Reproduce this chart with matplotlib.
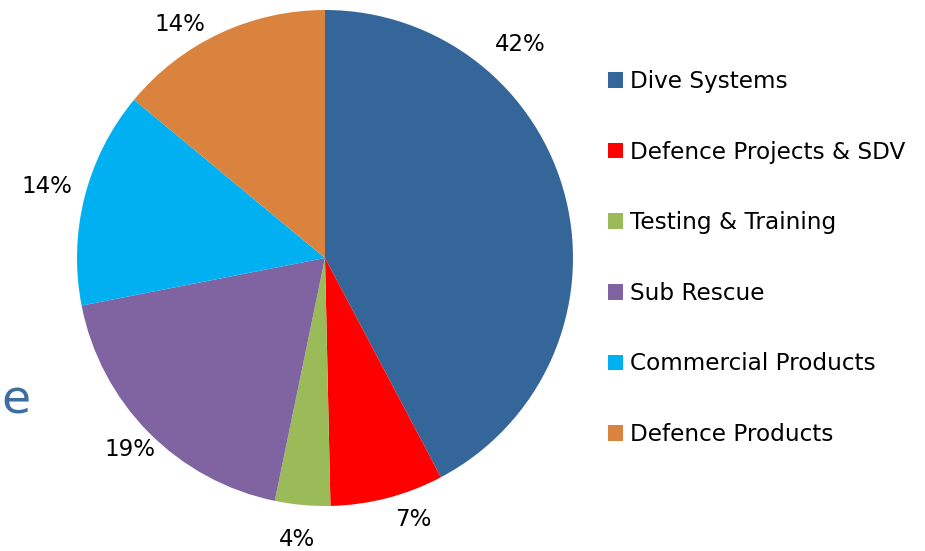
import matplotlib.pyplot as plt
from matplotlib.patches import Patch

categories = ["Dive Systems", "Defence Projects & SDV", "Testing & Training",
              "Sub Rescue", "Commercial Products", "Defence Products"]
shares = [42.3, 7.4, 3.6, 18.7, 14.1, 14.0]
pct_labels = ["42%", "7%", "4%", "19%", "14%", "14%"]
colors = ["#346699", "#ff0000", "#9bbb59", "#8064a2", "#00b0f0", "#da833f"]

# label spots in pie units (radius = 1)
label_xy = [(0.786, 0.859), (0.355, -1.056), (-0.113, -1.137),
            (-0.786, -0.774), (-1.121, 0.290), (-0.585, 0.940)]

W, H = 925, 551
cx, cy, r = 325, 258, 248

fig = plt.figure(figsize=(W / 100, H / 100), dpi=100)
ax = fig.add_axes([(cx - r) / W, (H - cy - r) / H, 2 * r / W, 2 * r / H])
ax.pie(shares, colors=colors, startangle=90, counterclock=False, radius=1,
       wedgeprops=dict(linewidth=0))
ax.set_xlim(-1, 1)
ax.set_ylim(-1, 1)
ax.set_aspect("equal")
ax.axis("off")

for txt, (x, y) in zip(pct_labels, label_xy):
    ax.text(x, y, txt, ha="center", va="center", fontsize=16.5, color="black",
            clip_on=False)

# cut-off title letter at the left edge
fig.text(1 / W, 1 - 401 / H, "e", fontsize=34, color="#3d6ea0",
         ha="left", va="center")

handles = [Patch(facecolor=c, edgecolor="none") for c in colors]
fig.legend(handles, categories, loc="upper left", bbox_to_anchor=(599 / W, 1 - 61 / H),
           frameon=False, fontsize=16.7, handlelength=0.65, handleheight=0.65,
           handletextpad=0.3, labelspacing=2.05, borderaxespad=0)

fig.savefig("out.png", dpi=100)
